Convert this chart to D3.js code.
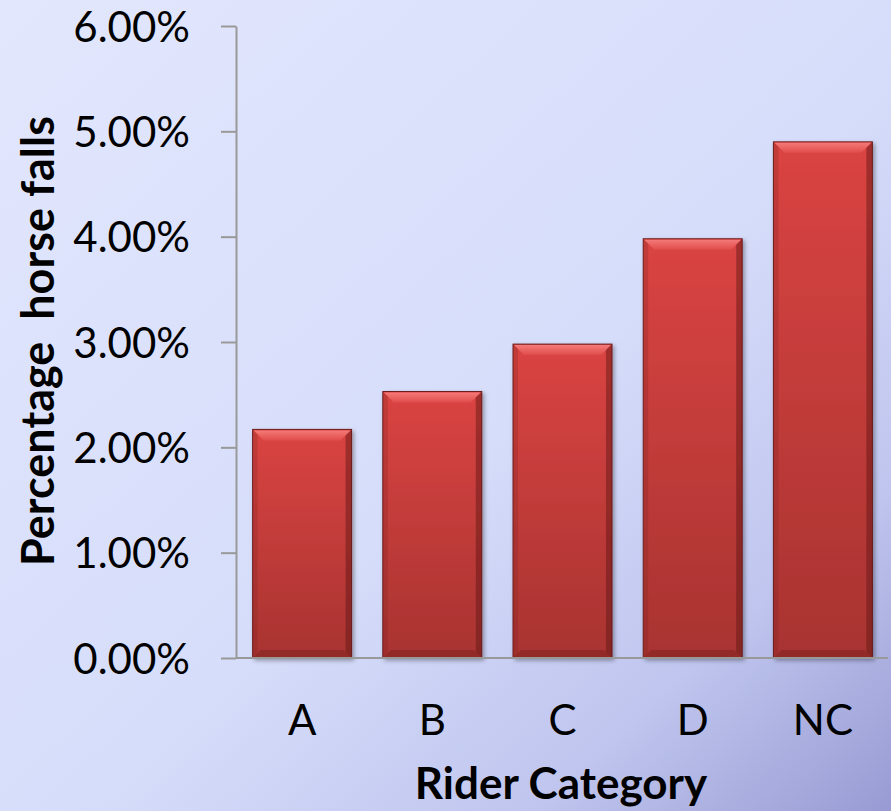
<!DOCTYPE html>
<html>
<head>
<meta charset="utf-8">
<script src="https://cdn.jsdelivr.net/npm/d3@7"></script>
<style>
  html, body { margin: 0; padding: 0; }
  svg { display: block; }
</style>
</head>
<body>
<svg id="chart" width="891" height="811"></svg>
<script>
const categories = ['A', 'B', 'C', 'D', 'NC'];
const falls = [0.0217, 0.0253, 0.0298, 0.0398, 0.0490];
const yTicks = [0, 0.01, 0.02, 0.03, 0.04, 0.05, 0.06];

const width = 891, height = 811;
const font = 'Lato, "Open Sans", sans-serif';

const svg = d3.select('#chart');
const defs = svg.append('defs');

// slide-like background
const bg = defs.append('linearGradient').attr('id', 'bg')
  .attr('x1', '0').attr('y1', '0').attr('x2', '1').attr('y2', '1');
bg.append('stop').attr('offset', '0').attr('stop-color', '#e2e7fd');
bg.append('stop').attr('offset', '0.55').attr('stop-color', '#d6ddfa');
bg.append('stop').attr('offset', '0.8').attr('stop-color', '#bfc5ee');
bg.append('stop').attr('offset', '1').attr('stop-color', '#989bd3');

const barGrad = defs.append('linearGradient').attr('id', 'bar')
  .attr('x1', '0').attr('y1', '0').attr('x2', '0').attr('y2', '1');
barGrad.append('stop').attr('offset', '0').attr('stop-color', '#da4442');
barGrad.append('stop').attr('offset', '1').attr('stop-color', '#a83331');

const topGrad = defs.append('linearGradient').attr('id', 'bevelTop')
  .attr('x1', '0').attr('y1', '0').attr('x2', '0').attr('y2', '1');
topGrad.append('stop').attr('offset', '0').attr('stop-color', '#f47a78');
topGrad.append('stop').attr('offset', '1').attr('stop-color', '#e04c4a');

const shadow = defs.append('filter').attr('id', 'shadow')
  .attr('x', '-20%').attr('y', '-20%').attr('width', '140%').attr('height', '140%');
shadow.append('feDropShadow').attr('dx', 2).attr('dy', 2)
  .attr('stdDeviation', 2).attr('flood-color', '#000').attr('flood-opacity', 0.35);

svg.append('rect').attr('width', width).attr('height', height).attr('fill', 'url(#bg)');

const x = d3.scaleBand().domain(categories).range([237, 888])
  .paddingInner(0.24).paddingOuter(0.12);
const y = d3.scaleLinear().domain([0, 0.06]).range([658, 26]);

// y axis
const yAxis = svg.append('g').attr('transform', 'translate(236,0)')
  .call(d3.axisLeft(y).tickValues(yTicks).tickFormat(d3.format('.2%'))
    .tickSize(15).tickPadding(31).tickSizeOuter(0));
yAxis.select('.domain').attr('stroke', '#999').attr('stroke-width', 2);
yAxis.selectAll('.tick line').attr('stroke', '#999').attr('stroke-width', 2);
yAxis.selectAll('.tick text').attr('font-family', font).attr('font-size', 42)
  .attr('fill', '#000').attr('dy', '0.36em');

// bars
const bars = svg.append('g').selectAll('g').data(falls).join('g')
  .attr('filter', 'url(#shadow)');

bars.append('rect')
  .attr('x', (d, i) => x(categories[i]))
  .attr('y', d => y(d))
  .attr('width', x.bandwidth())
  .attr('height', d => y(0) - y(d))
  .attr('fill', 'url(#bar)')
  .attr('stroke', '#6e1c1c').attr('stroke-width', 1);

const b = 11;
// top bevel highlight
bars.append('path').attr('d', (d, i) => {
  const x0 = x(categories[i]), x1 = x0 + x.bandwidth(), t = y(d);
  return `M${x0 + 1},${t + 1}L${x1 - 1},${t + 1}L${x1 - b},${t + b}L${x0 + b},${t + b}Z`;
}).attr('fill', 'url(#bevelTop)');
// right bevel shade
bars.append('path').attr('d', (d, i) => {
  const x0 = x(categories[i]), x1 = x0 + x.bandwidth(), t = y(d), bt = y(0);
  return `M${x1},${t}L${x1},${bt}L${x1 - 6},${bt - 6}L${x1 - 6},${t + 6}Z`;
}).attr('fill', '#5a1414').attr('opacity', 0.45);
// left bevel
bars.append('path').attr('d', (d, i) => {
  const x0 = x(categories[i]), t = y(d), bt = y(0);
  return `M${x0},${t}L${x0 + 5},${t + 5}L${x0 + 5},${bt - 5}L${x0},${bt}Z`;
}).attr('fill', '#7d2020').attr('opacity', 0.25);
// bottom bevel
bars.append('path').attr('d', (d, i) => {
  const x0 = x(categories[i]), x1 = x0 + x.bandwidth(), bt = y(0);
  return `M${x0},${bt}L${x1},${bt}L${x1 - 8},${bt - 8}L${x0 + 8},${bt - 8}Z`;
}).attr('fill', '#6a1a1a').attr('opacity', 0.35);

// x axis
const xAxis = svg.append('g').attr('transform', 'translate(0,658)')
  .call(d3.axisBottom(x).tickSize(0).tickPadding(62).tickSizeOuter(0));
xAxis.select('.domain').attr('stroke', '#999').attr('stroke-width', 2)
  .attr('d', 'M236,0H888');
xAxis.selectAll('.tick text').attr('font-family', font).attr('font-size', 42)
  .attr('fill', '#000').attr('dy', '0.36em');

// titles
svg.append('text').attr('x', 561).attr('y', 799).attr('text-anchor', 'middle')
  .attr('font-family', font).attr('font-weight', 'bold').attr('font-size', 44)
  .text('Rider Category');

svg.append('text').attr('transform', 'translate(54,341) rotate(-90)')
  .attr('text-anchor', 'middle')
  .attr('font-family', font).attr('font-weight', 'bold').attr('font-size', 45)
  .attr('xml:space', 'preserve').style('white-space', 'pre')
  .text('Percentage  horse falls');
</script>
</body>
</html>
